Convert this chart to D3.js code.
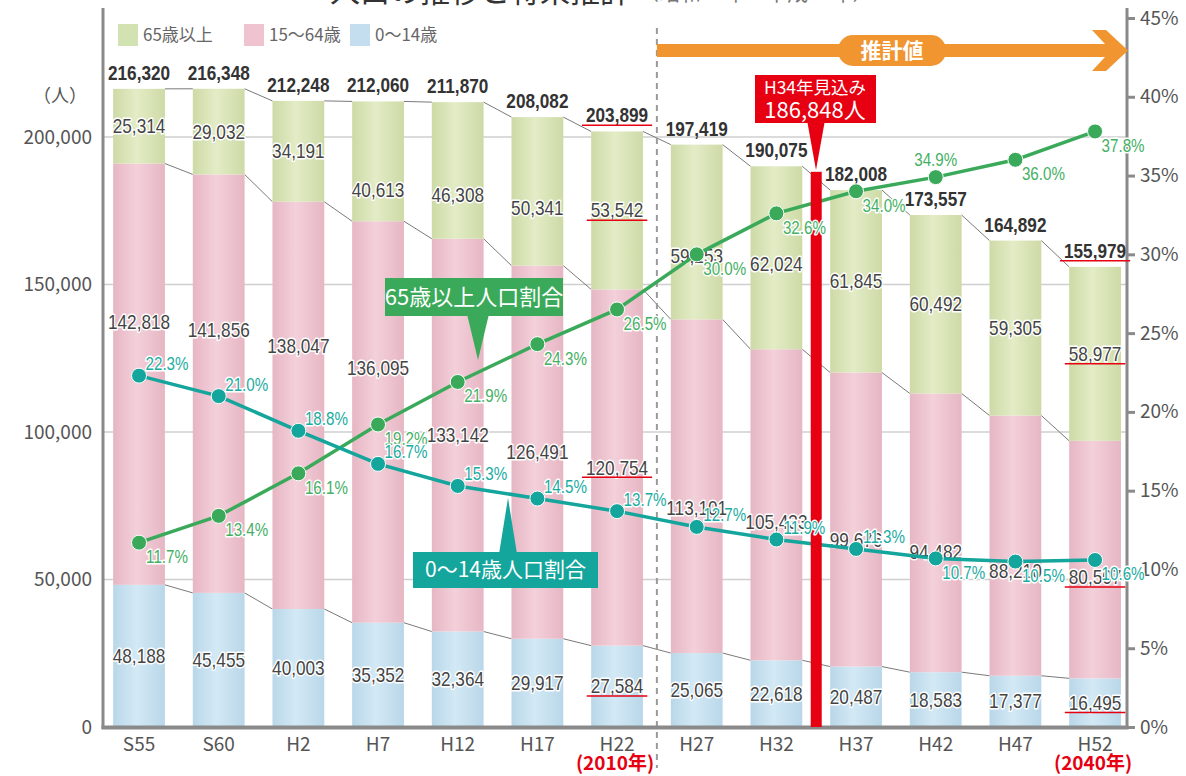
<!DOCTYPE html>
<html><head><meta charset="utf-8">
<script src="https://cdn.jsdelivr.net/npm/d3@7"></script>
<style>body{margin:0;background:#fff}</style>
</head><body>
<svg id="c" width="1186" height="776"></svg>
<script>
// ---------- data ----------
const categories = ["S55","S60","H2","H7","H12","H17","H22","H27","H32","H37","H42","H47","H52"];
const age0to14  = [48188,45455,40003,35352,32364,29917,27584,25065,22618,20487,18583,17377,16495];
const age15to64 = [142818,141856,138047,136095,133142,126491,120754,113101,105433,99676,94482,88210,80507];
const age65plus = [25314,29032,34191,40613,46308,50341,53542,59253,62024,61845,60492,59305,58977];
const totals    = [216320,216348,212248,212060,211870,208082,203899,197419,190075,182008,173557,164892,155979];
const ratio65plus = [11.7,13.4,16.1,19.2,21.9,24.3,26.5,30.0,32.6,34.0,34.9,36.0,37.8];
const ratio0to14  = [22.3,21.0,18.8,16.7,15.3,14.5,13.7,12.7,11.9,11.3,10.7,10.5,10.6];
const leftTicks  = [0,50000,100000,150000,200000];
const rightTicks = [0,5,10,15,20,25,30,35,40,45];
const legendLabels = ["65歳以上","15～64歳","0～14歳"];
const estimateLabel = ["H34年見込み","186,848人"];
const estimateValue = 186848;
const highlightCats = ["H22","H52"];
const highlightYears = ["(2010年)","(2040年)"];

// ---------- layout helpers (label placement) ----------
const greenFrac = [0.5,0.5,0.5,0.74,0.68,0.61,0.5,0.64,0.535,0.5,0.5,0.5,0.5];
const pinkFrac  = [0.375,0.372,0.354,0.366,0.5,0.5,0.5,0.566,0.556,0.569,0.57,0.598,0.574];
const greenPctPos = ["br","br","br","br","br","br","br","br","br","br","t","br","br"];
const tealPctPos  = ["tr","tr","tr","tr","tr","tr","tr","tr","tr","tr","br","br","br"];

const svg = d3.select("#c");
const FONT = "'Noto Sans CJK JP','Noto Sans',sans-serif";
const NARROW = "'Liberation Sans Narrow','Liberation Sans',Arial,sans-serif";

const x = d3.scaleBand().domain(categories).range([99.2, 1134.9]).paddingInner(0.35).paddingOuter(0.175);
const y = d3.scaleLinear().domain([0,200000]).range([727,137]);
const yP = d3.scaleLinear().domain([0,45]).range([727,18]);
const bw = x.bandwidth();
const cx = c => x(c) + bw/2;
const place = (px,py,s) => `translate(${px},${py}) scale(${s},1)`;

// gradients
const defs = svg.append("defs");
function grad(id, edge, mid){
  const g = defs.append("linearGradient").attr("id",id).attr("x1","0").attr("x2","1").attr("y1","0").attr("y2","0");
  g.append("stop").attr("offset","0").attr("stop-color",edge);
  g.append("stop").attr("offset","0.45").attr("stop-color",mid);
  g.append("stop").attr("offset","1").attr("stop-color",edge);
}
grad("gG","#cddaa6","#e3ecc6");
grad("gP","#e6b6c3","#f3d0da");
grad("gB","#b9d7e9","#d3e9f5");
const segColors = ["url(#gB)","url(#gP)","url(#gG)"];
const legendColors = ["#d3e2b2","#efc3cf","#c4def0"];

// title (cut off at top)
svg.append("text").attr("x",330).attr("y",2).attr("font-family",FONT).attr("font-size",30)
  .attr("fill","#333").text("人口の推移と将来推計");
svg.append("text").attr("x",638).attr("y",0).attr("font-family",FONT).attr("font-size",21)
  .attr("fill","#777").text("（昭和55年～平成52年）");

// gridlines
svg.append("g").selectAll("line").data(leftTicks.filter(d=>d>0)).join("line")
  .attr("x1",103).attr("x2",1127).attr("y1",d=>y(d)).attr("y2",d=>y(d))
  .attr("stroke","#cfcfcf").attr("stroke-width",1.5);

// stacked data
const rows = categories.map((c,i)=>({cat:c, a:age0to14[i], b:age15to64[i], c65:age65plus[i]}));
const stack = d3.stack().keys(["a","b","c65"])(rows);

// connectors between bars
const conn = svg.append("g").attr("stroke","#7a7a7a").attr("stroke-width",1).attr("fill","none");
stack.forEach(layer=>{
  for(let i=0;i<categories.length-1;i++){
    conn.append("line")
      .attr("x1", x(categories[i])+bw).attr("y1", y(layer[i][1]))
      .attr("x2", x(categories[i+1])).attr("y2", y(layer[i+1][1]));
  }
});

// bars
svg.append("g").selectAll("g").data(stack).join("g")
  .attr("fill",(d,i)=>segColors[i])
  .selectAll("rect").data(d=>d).join("rect")
  .attr("x",d=>x(d.data.cat)).attr("width",bw)
  .attr("y",d=>y(d[1])).attr("height",d=>y(d[0])-y(d[1]));

// dashed separator
const sepX = (cx("H22")+cx("H27"))/2;
svg.append("line").attr("x1",sepX).attr("x2",sepX).attr("y1",28).attr("y2",768)
  .attr("stroke","#9a9a9a").attr("stroke-width",2).attr("stroke-dasharray","6,5");

// axes
const axisColor = "#8a8a8a";
svg.append("line").attr("x1",103).attr("x2",103).attr("y1",8).attr("y2",729).attr("stroke",axisColor).attr("stroke-width",3);
svg.append("line").attr("x1",1127).attr("x2",1127).attr("y1",8).attr("y2",729).attr("stroke",axisColor).attr("stroke-width",3);

const gl = svg.append("g").attr("transform","translate(103,0)")
  .call(d3.axisLeft(y).tickValues(leftTicks).tickFormat(d3.format(",")).tickSize(0).tickPadding(11));
gl.select(".domain").remove();
gl.selectAll("text").attr("font-family",FONT).attr("font-size",19).attr("fill","#555");

const gr = svg.append("g").attr("transform","translate(1127,0)")
  .call(d3.axisRight(yP).tickValues(rightTicks).tickFormat(d=>d+"%").tickSize(8).tickPadding(5));
gr.select(".domain").remove();
gr.selectAll("line").attr("stroke",axisColor).attr("stroke-width",3);
gr.selectAll("text").attr("font-family",FONT).attr("font-size",19).attr("fill","#555");

const gb = svg.append("g").attr("transform","translate(0,727)")
  .call(d3.axisBottom(x).tickSize(0).tickPadding(11));
gb.select(".domain").remove();
gb.selectAll("text").attr("font-family",FONT).attr("font-size",19).attr("fill","#555");
svg.append("line").attr("x1",101.5).attr("x2",1128.5).attr("y1",727.5).attr("y2",727.5).attr("stroke",axisColor).attr("stroke-width",4);

// total labels
const fmt = d3.format(",");
const totalText = svg.append("g").selectAll("text").data(categories).join("text")
  .attr("transform",(d,i)=>place(cx(d), y(stack[2][i][1])-9, 0.86))
  .attr("text-anchor","middle").attr("font-family",NARROW).attr("font-weight","bold")
  .attr("font-size",20).attr("fill","#333").text((d,i)=>fmt(totals[i]));

// segment labels
function segLabel(vals, yOf){
  return svg.append("g").selectAll("text").data(categories).join("text")
    .attr("transform",(d,i)=>place(cx(d), yOf(i), 0.86)).attr("dy","0.35em")
    .attr("text-anchor","middle").attr("font-family",NARROW).attr("font-size",20)
    .attr("fill","#444").attr("stroke","#fff").attr("stroke-width",3).attr("paint-order","stroke")
    .attr("stroke-linejoin","round")
    .text((d,i)=>fmt(vals[i]));
}
const lblB = segLabel(age0to14, i=>(y(stack[0][i][0])+y(stack[0][i][1]))/2);
const lblP = segLabel(age15to64, i=>{const t=y(stack[1][i][1]), b=y(stack[1][i][0]); return t+(b-t)*pinkFrac[i];});
const lblG = segLabel(age65plus, i=>{const t=y(stack[2][i][1]), b=y(stack[2][i][0]); return t+(b-t)*greenFrac[i];});

// ratio lines
const green = "#3aaa5a", teal = "#14a59c";
function ratioLine(vals, color){
  const pts = categories.map((c,i)=>[cx(c), yP(vals[i])]);
  svg.append("path").attr("d", d3.line()(pts)).attr("fill","none").attr("stroke",color).attr("stroke-width",3.5);
  svg.append("g").selectAll("circle").data(pts).join("circle")
    .attr("cx",d=>d[0]).attr("cy",d=>d[1]).attr("r",7.5).attr("fill",color)
    .attr("stroke","#fff").attr("stroke-width",1);
}
ratioLine(ratio65plus, green);
ratioLine(ratio0to14, teal);

// estimate bar (H34)
const estX = (cx("H32")+cx("H37"))/2;
svg.append("rect").attr("x",estX-5.5).attr("width",11).attr("y",y(estimateValue)-4).attr("height",727-y(estimateValue)+4)
  .attr("fill","#e60012");

// ratio labels
function pctLabels(vals, pos, color){
  svg.append("g").selectAll("text").data(categories).join("text")
    .attr("transform",(d,i)=>place(cx(d) + (pos[i]==="t" ? 0 : 28),
        yP(vals[i]) + (pos[i]==="tr" ? -12 : pos[i]==="t" ? -18 : 14), 0.82))
    .attr("dy","0.35em").attr("text-anchor","middle")
    .attr("font-family",NARROW).attr("font-size",18.5).attr("fill",color)
    .attr("stroke","#fff").attr("stroke-width",3).attr("paint-order","stroke").attr("stroke-linejoin","round")
    .text((d,i)=>vals[i].toFixed(1)+"%");
}
pctLabels(ratio65plus, greenPctPos, "#45b065");
pctLabels(ratio0to14, tealPctPos, "#1aaca2");

// red underlines for highlighted columns
function underline(sel){
  sel.each(function(d){
    if(!highlightCats.includes(d)) return;
    const b = this.getBBox();
    const w = b.width*0.86;
    const c = cx(d);
    const t = this.transform.baseVal.consolidate().matrix;
    const yy = t.f + b.y + b.height - 1.5;
    svg.append("line").attr("x1",c-w/2-4).attr("x2",c+w/2+4)
      .attr("y1",yy).attr("y2",yy)
      .attr("stroke","#e60012").attr("stroke-width",1.5);
  });
}
[totalText,lblB,lblP,lblG].forEach(underline);

// year notes
svg.append("g").selectAll("text").data(highlightCats).join("text")
  .attr("x",d=>cx(d)-2).attr("y",770).attr("text-anchor","middle")
  .attr("font-family",FONT).attr("font-weight","bold").attr("font-size",19).attr("fill","#e60012")
  .text((d,i)=>highlightYears[i]);

// callouts
function callout(rx,ry,rw,rh,tip,color,text,fs){
  const g = svg.append("g");
  g.append("path").attr("d",d3.line()(tip)+"Z").attr("fill",color);
  g.append("rect").attr("x",rx).attr("y",ry).attr("width",rw).attr("height",rh).attr("fill",color);
  g.append("text").attr("x",rx+rw/2).attr("y",ry+rh/2).attr("dy","0.35em").attr("text-anchor","middle")
    .attr("font-family",FONT).attr("font-size",fs).attr("fill","#fff").text(text);
  return g;
}
callout(385,278,178,38,[[467,314],[489,314],[478,360]],green,"65歳以上人口割合",22);
callout(413,552,185,36,[[499,554],[517,554],[508,498]],teal,"0～14歳人口割合",21);

// H34 estimate callout
const rc = svg.append("g");
rc.append("path").attr("d",d3.line()([[807,120],[825,120],[816,170]])+"Z").attr("fill","#e60012");
rc.append("rect").attr("x",755).attr("y",75).attr("width",121).attr("height",48).attr("fill","#e60012");
rc.append("text").attr("x",815).attr("y",88).attr("dy","0.35em").attr("text-anchor","middle")
  .attr("font-family",FONT).attr("font-size",17.5).attr("fill","#fff").text(estimateLabel[0]);
rc.append("text").attr("x",815).attr("y",110).attr("dy","0.35em").attr("text-anchor","middle")
  .attr("font-family",FONT).attr("font-size",22).attr("fill","#fff").text(estimateLabel[1]);

// orange projection arrow
const orange = "#f0952f";
svg.append("rect").attr("x",sepX).attr("y",44).attr("width",1112-sepX).attr("height",13).attr("fill",orange);
svg.append("path").attr("d",d3.line()([[1092,30],[1106,30],[1128,50.5],[1106,71],[1092,71],[1111,50.5]])+"Z").attr("fill",orange);
svg.append("rect").attr("x",838).attr("y",35).attr("width",108).attr("height",31).attr("rx",15).attr("fill",orange);
svg.append("text").attr("x",892).attr("y",51).attr("dy","0.35em").attr("text-anchor","middle")
  .attr("font-family",FONT).attr("font-weight","bold").attr("font-size",21).attr("fill","#fff").text("推計値");

// legend
const lg = svg.append("g");
const legX = [118,244,350];
legendLabels.forEach((t,i)=>{
  lg.append("rect").attr("x",legX[i]).attr("y",24).attr("width",20).attr("height",22).attr("fill",legendColors[i]);
  lg.append("text").attr("x",legX[i]+25).attr("y",35).attr("dy","0.35em")
    .attr("font-family",FONT).attr("font-size",17).attr("fill","#666").text(t);
});

// unit label
svg.append("text").attr("x",60).attr("y",96).attr("dy","0.35em").attr("text-anchor","middle")
  .attr("font-family",FONT).attr("font-size",18).attr("fill","#555").text("（人）");
</script>
</body></html>
